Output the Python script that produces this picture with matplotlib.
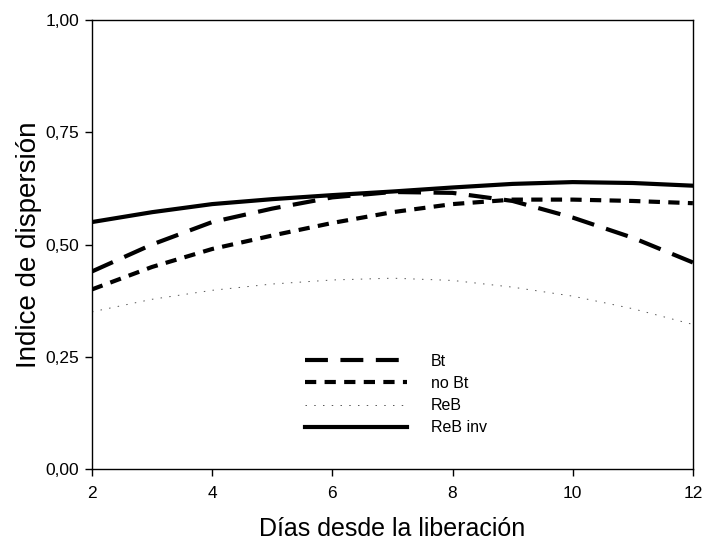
import matplotlib
matplotlib.use("Agg")
import matplotlib.pyplot as plt
from matplotlib.ticker import FuncFormatter

plt.rcParams['font.family'] = ['Liberation Sans', 'DejaVu Sans']

days = [2, 3, 4, 5, 6, 7, 8, 9, 10, 11, 12]
bt = [0.44, 0.50, 0.55, 0.58, 0.605, 0.617, 0.615, 0.597, 0.56, 0.515, 0.46]
no_bt = [0.40, 0.45, 0.49, 0.52, 0.548, 0.572, 0.59, 0.60, 0.60, 0.597, 0.592]
reb = [0.35, 0.378, 0.398, 0.412, 0.421, 0.425, 0.42, 0.405, 0.385, 0.357, 0.322]
reb_inv = [0.55, 0.572, 0.59, 0.601, 0.61, 0.618, 0.627, 0.635, 0.639, 0.637, 0.631]

labels = ["Bt", "no Bt", "ReB", "ReB inv"]
x_ticks = [2, 4, 6, 8, 10, 12]
y_ticks = [0.0, 0.25, 0.5, 0.75, 1.0]

fig = plt.figure(figsize=(7.02, 5.47), dpi=100)
ax = fig.add_axes([0.131, 0.1426, 0.856, 0.8208])

ax.plot(days, bt, color='black', lw=3, linestyle=(0, (5.5, 3.0)), label=labels[0])
ax.plot(days, no_bt, color='black', lw=3, linestyle=(0, (2.7, 2.0)), label=labels[1])
ax.plot(days, reb, color='#555555', lw=0.7, linestyle=(0, (1.5, 7.5)), label=labels[2])
ax.plot(days, reb_inv, color='black', lw=3, linestyle='-', label=labels[3])

ax.set_xlim(2, 12)
ax.set_ylim(0, 1)
ax.set_xticks(x_ticks)
ax.set_yticks(y_ticks)
ax.yaxis.set_major_formatter(FuncFormatter(lambda v, p: f"{v:.2f}".replace('.', ',')))
ax.tick_params(direction='out', length=5, width=1, labelsize=12.5, colors='black')
ax.tick_params(axis='x', pad=7)
ax.tick_params(axis='y', pad=4)
for s in ax.spines.values():
    s.set_linewidth(1)
    s.set_color('black')

ax.set_xlabel("Días desde la liberación", fontsize=18)
ax.xaxis.set_label_coords(0.5, -0.106)
ax.set_ylabel("Indice de dispersión", fontsize=20)
ax.yaxis.set_label_coords(-0.083, 0.5)

leg = ax.legend(loc='upper left', bbox_to_anchor=(0.354, 0.256), frameon=False,
                fontsize=11.5, handlelength=6.4, handletextpad=1.5,
                labelspacing=0.44, borderaxespad=0, borderpad=0)

fig.savefig("out.png", dpi=100)
